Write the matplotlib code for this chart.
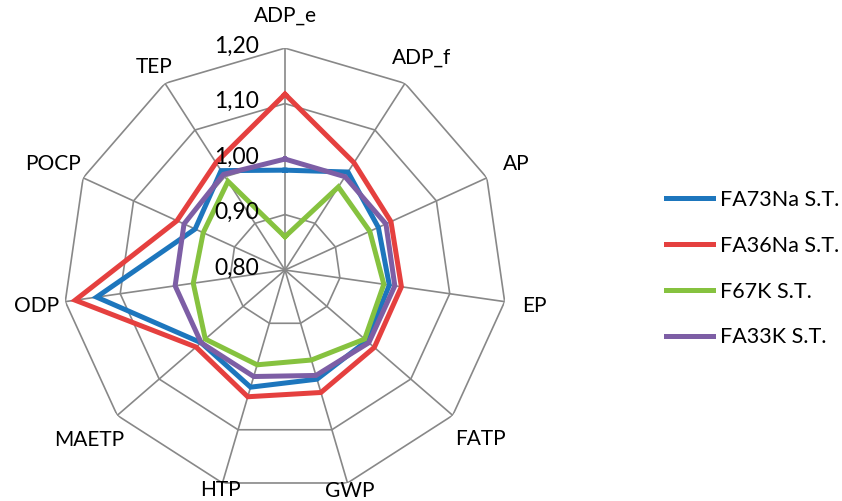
import numpy as np
import matplotlib
matplotlib.use('Agg')
from matplotlib import pyplot as plt

plt.rcParams['font.family'] = ['Lato', 'DejaVu Sans']

categories = ['ADP_e', 'ADP_f', 'AP', 'EP', 'FATP', 'GWP', 'HTP', 'MAETP', 'ODP', 'POCP', 'TEP']
series_names = ['FA73Na S.T.', 'FA36Na S.T.', 'F67K S.T.', 'FA33K S.T.']
fa73na = [0.98, 1.01, 0.985, 0.99, 0.995, 1.005, 1.02, 1.00, 1.143, 0.978, 1.013]
fa36na = [1.117, 1.03, 1.01, 1.012, 1.013, 1.03, 1.038, 1.012, 1.182, 1.014, 1.03]
f67k = [0.86, 0.978, 0.968, 0.98, 0.99, 0.969, 0.978, 0.99, 0.967, 0.962, 0.99]
fa33k = [1.00, 1.00, 1.00, 1.00, 1.00, 0.998, 1.00, 1.00, 1.00, 1.00, 1.005]
ticks = [0.8, 0.9, 1.0, 1.1, 1.2]
tick_labels = ['0,80', '0,90', '1,00', '1,10', '1,20']

colors = ['#1d76bd', '#e5403f', '#86c23f', '#7d5ea5']

n = len(categories)
angles = np.linspace(0, 2 * np.pi, n, endpoint=False)
ang_closed = np.append(angles, angles[0])

fig = plt.figure(figsize=(8.42, 5.01), dpi=100)
ax = fig.add_axes([0.0748, 0.018, 0.5273, 0.886], projection='polar')
ax.set_theta_offset(np.pi / 2)
ax.set_theta_direction(-1)
ax.set_ylim(0.8, 1.2)
ax.grid(False)
ax.spines['polar'].set_visible(False)
ax.set_xticks([])
ax.set_yticks([])
ax.patch.set_alpha(0)

# polygon grid
for t in ticks[1:]:
    ax.plot(ang_closed, [t] * (n + 1), color='#888888', lw=1.2, zorder=1)
for a in angles:
    ax.plot([a, a], [0.8, 1.2], color='#888888', lw=1.2, zorder=1)

for t, lab in zip(ticks, tick_labels):
    ax.annotate(lab, xy=(0, t), xytext=(-26, 2), textcoords='offset pixels',
                ha='right', va='center', fontsize=16.5, zorder=5)

data = [fa73na, fa36na, f67k, fa33k]
for vals, name, c in zip(data, series_names, colors):
    ax.plot(ang_closed, list(vals) + [vals[0]], color=c, lw=3.6, label=name,
            solid_joinstyle='miter', zorder=3)

label_r = [1.258, 1.255, 1.258, 1.255, 1.265, 1.215, 1.213, 1.268, 1.252, 1.26, 1.235]
for a, lab, r in zip(angles, categories, label_r):
    ax.text(a, r, lab, ha='center', va='center', fontsize=15, clip_on=False)

fig.legend(loc='center left', bbox_to_anchor=(0.791, 0.4637), frameon=False,
           fontsize=15.5, handlelength=2.2, handletextpad=0.3, labelspacing=1.2,
           borderpad=0, borderaxespad=0)

fig.savefig('out.png', dpi=100)
